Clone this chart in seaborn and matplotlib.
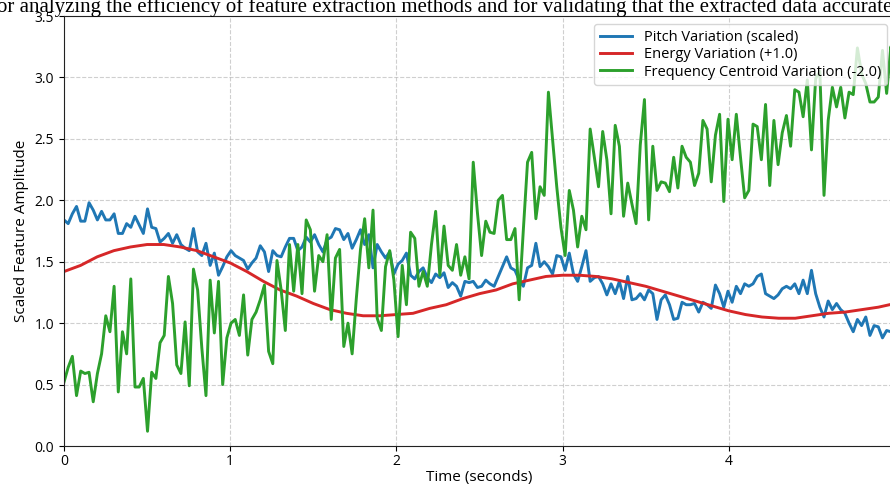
import numpy as np
import matplotlib
matplotlib.use("Agg")
import matplotlib.pyplot as plt
import seaborn as sns

# ---------------- data ----------------
time = np.linspace(0, 5, 200)

pitch = [
    1.84, 1.81, 1.89, 1.95, 1.83, 1.83, 1.98, 1.92, 1.84, 1.91,
    1.84, 1.84, 1.89, 1.73, 1.73, 1.81, 1.78, 1.87, 1.80, 1.73,
    1.93, 1.78, 1.77, 1.66, 1.69, 1.73, 1.65, 1.72, 1.64, 1.61,
    1.59, 1.77, 1.58, 1.55, 1.65, 1.47, 1.57, 1.39, 1.46, 1.54,
    1.59, 1.55, 1.53, 1.51, 1.44, 1.49, 1.53, 1.63, 1.58, 1.42,
    1.59, 1.55, 1.54, 1.62, 1.69, 1.69, 1.59, 1.62, 1.70, 1.66,
    1.72, 1.64, 1.58, 1.68, 1.70, 1.77, 1.76, 1.68, 1.73, 1.61,
    1.68, 1.76, 1.64, 1.72, 1.45, 1.64, 1.58, 1.53, 1.58, 1.40,
    1.48, 1.51, 1.57, 1.39, 1.36, 1.42, 1.45, 1.37, 1.33, 1.40,
    1.37, 1.41, 1.29, 1.33, 1.30, 1.22, 1.34, 1.33, 1.34, 1.29,
    1.30, 1.35, 1.32, 1.30, 1.38, 1.46, 1.54, 1.45, 1.43, 1.35,
    1.30, 1.45, 1.47, 1.65, 1.46, 1.50, 1.46, 1.40, 1.55, 1.54,
    1.43, 1.57, 1.40, 1.34, 1.46, 1.59, 1.34, 1.37, 1.38, 1.32,
    1.23, 1.32, 1.24, 1.34, 1.20, 1.38, 1.19, 1.20, 1.24, 1.19,
    1.27, 1.24, 1.03, 1.19, 1.23, 1.15, 1.03, 1.04, 1.17, 1.15,
    1.15, 1.16, 1.09, 1.17, 1.15, 1.12, 1.31, 1.24, 1.13, 1.26,
    1.17, 1.30, 1.24, 1.32, 1.30, 1.32, 1.38, 1.40, 1.24, 1.22,
    1.20, 1.23, 1.28, 1.30, 1.28, 1.32, 1.24, 1.35, 1.24, 1.43,
    1.24, 1.13, 1.05, 1.18, 1.11, 1.16, 1.11, 1.08, 1.00, 0.93,
    1.03, 0.98, 1.05, 0.90, 0.98, 0.97, 0.88, 0.94, 0.93, 0.92,
]

centroid = [
    0.52, 0.64, 0.73, 0.41, 0.61, 0.59, 0.60, 0.36, 0.59, 0.75,
    1.06, 0.93, 1.30, 0.44, 0.93, 0.75, 1.36, 0.48, 0.48, 0.55,
    0.12, 0.60, 0.55, 0.84, 0.90, 1.38, 1.16, 0.66, 0.59, 1.01,
    0.49, 1.44, 1.27, 0.80, 0.41, 1.35, 0.92, 1.34, 0.50, 0.88,
    1.00, 1.03, 0.90, 1.23, 0.74, 1.03, 1.09, 1.19, 1.31, 0.77,
    0.67, 1.51, 1.27, 0.94, 1.64, 1.26, 1.64, 1.24, 1.84, 1.76,
    1.26, 1.55, 1.50, 1.72, 1.03, 1.53, 1.60, 0.81, 1.00, 0.75,
    1.20, 1.60, 1.85, 1.45, 1.92, 1.04, 0.94, 1.46, 1.59, 1.35,
    0.89, 1.47, 1.15, 1.74, 1.69, 1.30, 1.42, 1.30, 1.64, 1.91,
    1.39, 1.79, 1.47, 1.43, 1.64, 1.39, 1.54, 1.36, 2.31, 1.90,
    1.55, 1.83, 1.74, 1.73, 2.00, 2.04, 1.68, 1.68, 1.77, 1.19,
    1.76, 2.31, 2.39, 1.85, 2.11, 2.04, 2.88, 2.49, 2.11, 1.78,
    1.55, 2.08, 1.92, 1.62, 1.87, 1.76, 2.58, 2.35, 2.11, 2.56,
    2.33, 1.89, 2.61, 2.44, 1.87, 2.14, 1.97, 1.81, 2.45, 2.82,
    1.84, 2.44, 2.08, 2.15, 2.14, 2.07, 2.35, 2.10, 2.44, 2.35,
    2.31, 2.12, 2.22, 2.65, 2.58, 2.15, 2.53, 2.70, 1.99, 2.66,
    2.33, 2.70, 2.35, 2.02, 2.08, 2.62, 2.60, 2.33, 2.78, 2.12,
    2.65, 2.29, 2.55, 2.69, 2.44, 2.90, 2.88, 2.68, 2.98, 2.41,
    2.99, 3.05, 2.04, 2.65, 2.92, 2.76, 2.92, 2.67, 2.88, 2.86,
    3.24, 3.03, 2.95, 2.80, 2.80, 2.84, 3.22, 2.87, 3.25, 2.95,
]

energy_time = np.linspace(0, 5, 51)
energy = [
    1.42, 1.47, 1.54, 1.59, 1.62, 1.64, 1.64, 1.62, 1.59, 1.54,
    1.49, 1.42, 1.34, 1.27, 1.22, 1.16, 1.11, 1.08, 1.06, 1.06,
    1.07, 1.08, 1.12, 1.15, 1.20, 1.24, 1.27, 1.32, 1.35, 1.38,
    1.39, 1.39, 1.38, 1.36, 1.33, 1.30, 1.26, 1.22, 1.18, 1.14,
    1.10, 1.07, 1.05, 1.04, 1.04, 1.06, 1.08, 1.09, 1.11, 1.13,
    1.16,
]

series_labels = [
    "Pitch Variation (scaled)",
    "Energy Variation (+1.0)",
    "Frequency Centroid Variation (-2.0)",
]
series_colors = ["#1f77b4", "#d62728", "#2ca02c"]
x_ticks = [0, 1, 2, 3, 4]
x_label = "Time (seconds)"
y_label = "Scaled Feature Amplitude"
title_text = ("for analyzing the efficiency of feature extraction methods and "
              "for validating that the extracted data accurately")

# ---------------- figure ----------------
plt.rcParams['font.family'] = ['Open Sans', 'DejaVu Sans']

W, H = 890, 484
fig = plt.figure(figsize=(W / 100, H / 100), dpi=100)
ax = fig.add_axes([64 / W, (H - 446) / H, (895 - 64) / W, 430 / H])

sns.lineplot(x=time, y=pitch, ax=ax, color=series_colors[0], linewidth=2.1,
             label=series_labels[0])
sns.lineplot(x=energy_time, y=energy, ax=ax, color=series_colors[1], linewidth=2.1,
             label=series_labels[1])
sns.lineplot(x=time, y=centroid, ax=ax, color=series_colors[2], linewidth=2.1,
             label=series_labels[2])

ax.set_xlim(0, 5)
ax.set_ylim(0, 3.5)
ax.set_xticks(x_ticks)
ax.set_xlabel(x_label, fontsize=11, labelpad=1)
ax.set_ylabel(y_label, fontsize=11)
ax.tick_params(labelsize=10)
ax.tick_params(axis='x', pad=2)
ax.grid(True, linestyle='--', linewidth=0.8, color='#b0b0b0', alpha=0.6)
for s in ax.spines.values():
    s.set_color('#222222')

ax.legend(loc='upper right', fontsize=10.5, framealpha=0.8, labelspacing=0.16,
          handlelength=2.2, borderaxespad=0.55)

fig.text(-10 / W, 1 - 12 / H, title_text, family='Liberation Serif', fontsize=15.0,
         ha='left', va='baseline', color='black')

fig.savefig("out.png", dpi=100)
